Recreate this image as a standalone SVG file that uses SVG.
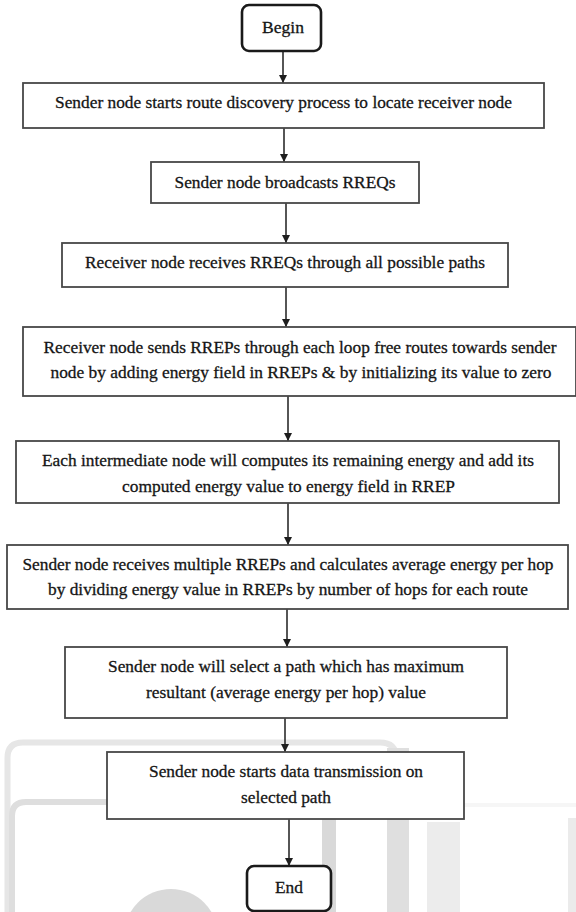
<svg xmlns="http://www.w3.org/2000/svg" width="576" height="912" viewBox="0 0 576 912">
<defs>
<marker id="ah" viewBox="0 0 8 10" refX="8" refY="5" markerWidth="8" markerHeight="10" markerUnits="userSpaceOnUse" orient="auto">
<path d="M0,1 L8,5 L0,9 Z" fill="#1e1e1e"/>
</marker>
</defs>
<style>
.box{fill:#fff;stroke:#474747;stroke-width:1.8}
.term{fill:#fff;stroke:#1a1a1a;stroke-width:2.6}
.t{font-family:"Liberation Serif","Times New Roman",serif;font-size:17.5px;fill:#151515;stroke:#151515;stroke-width:0.3;text-anchor:middle}
.c{stroke:#1e1e1e;stroke-width:1.5;fill:none;marker-end:url(#ah)}
.wm{fill:none}
</style>
<rect width="576" height="912" fill="#fff"/>
<g id="watermark">
<path class="wm" d="M7.5,912 V758 Q7.5,742.5 23,742.5 H380 Q396,742.5 396,758 V912" stroke="#e6e6e6" stroke-width="6"/>
<path class="wm" d="M12,912 V816 Q12,802 26,802 H318 Q330,802 330,814 V912" stroke="#dedede" stroke-width="6"/>
<rect x="322" y="812" width="14" height="100" fill="#d9d9d9"/>
<rect x="387" y="748" width="22" height="164" fill="#dfdfdf"/>
<rect x="427" y="822" width="33" height="90" fill="#ececec"/>
<rect x="464" y="803" width="112" height="4" fill="#f6f6f6"/>
<rect x="568" y="818" width="8" height="94" fill="#ebebeb"/>
<circle cx="171" cy="936" r="47" fill="#d9d9d9"/>
</g>
<g id="connectors">
<line class="c" x1="283" y1="51" x2="283" y2="83"/>
<line class="c" x1="284" y1="128" x2="284" y2="162"/>
<line class="c" x1="286" y1="203" x2="286" y2="243"/>
<line class="c" x1="286" y1="287" x2="286" y2="327"/>
<line class="c" x1="288" y1="396" x2="288" y2="441"/>
<line class="c" x1="288" y1="503" x2="288" y2="545"/>
<line class="c" x1="287" y1="609" x2="287" y2="647"/>
<line class="c" x1="285" y1="718" x2="285" y2="752"/>
<line class="c" x1="289" y1="819" x2="289" y2="866"/>
</g>
<g id="begin">
<rect class="term" x="242" y="5" width="79" height="46" rx="7"/>
<text class="t" x="283" y="33" textLength="42" lengthAdjust="spacingAndGlyphs">Begin</text>
</g>
<g id="step1">
<rect class="box" x="23" y="83" width="521" height="45"/>
<text class="t" x="283.5" y="108" textLength="457" lengthAdjust="spacingAndGlyphs">Sender node starts route discovery process to locate receiver node</text>
</g>
<g id="step2">
<rect class="box" x="151" y="162" width="268" height="41"/>
<text class="t" x="285" y="188" textLength="221" lengthAdjust="spacingAndGlyphs">Sender node broadcasts RREQs</text>
</g>
<g id="step3">
<rect class="box" x="62" y="243" width="446" height="44"/>
<text class="t" x="285" y="268" textLength="400" lengthAdjust="spacingAndGlyphs">Receiver node receives RREQs through all possible paths</text>
</g>
<g id="step4">
<rect class="box" x="23" y="327" width="553" height="69"/>
<text class="t" x="300" y="353" textLength="513" lengthAdjust="spacingAndGlyphs">Receiver node sends RREPs through each loop free routes towards sender</text>
<text class="t" x="301" y="378" textLength="501" lengthAdjust="spacingAndGlyphs">node by adding energy field in RREPs &amp; by initializing its value to zero</text>
</g>
<g id="step5">
<rect class="box" x="16" y="441" width="543" height="62"/>
<text class="t" x="288" y="466" textLength="492" lengthAdjust="spacingAndGlyphs">Each intermediate node will computes its remaining energy and add its</text>
<text class="t" x="288.5" y="492" textLength="333" lengthAdjust="spacingAndGlyphs">computed energy value to energy field in RREP</text>
</g>
<g id="step6">
<rect class="box" x="7" y="545" width="561" height="64"/>
<text class="t" x="288" y="570" textLength="531" lengthAdjust="spacingAndGlyphs">Sender node receives multiple RREPs and calculates average energy per hop</text>
<text class="t" x="288" y="595" textLength="480" lengthAdjust="spacingAndGlyphs">by dividing energy value in RREPs by number of hops for each route</text>
</g>
<g id="step7">
<rect class="box" x="65" y="647" width="442" height="71"/>
<text class="t" x="286" y="672" textLength="356" lengthAdjust="spacingAndGlyphs">Sender node will select a path which has maximum</text>
<text class="t" x="286" y="698" textLength="280" lengthAdjust="spacingAndGlyphs">resultant (average energy per hop) value</text>
</g>
<g id="step8">
<rect class="box" x="107" y="752" width="357" height="67"/>
<text class="t" x="286" y="777" textLength="274" lengthAdjust="spacingAndGlyphs">Sender node starts data transmission on</text>
<text class="t" x="286" y="803" textLength="90" lengthAdjust="spacingAndGlyphs">selected path</text>
</g>
<g id="end">
<rect class="term" x="247" y="866" width="84" height="45" rx="7"/>
<text class="t" x="289" y="893" textLength="28" lengthAdjust="spacingAndGlyphs">End</text>
</g>
</svg>
